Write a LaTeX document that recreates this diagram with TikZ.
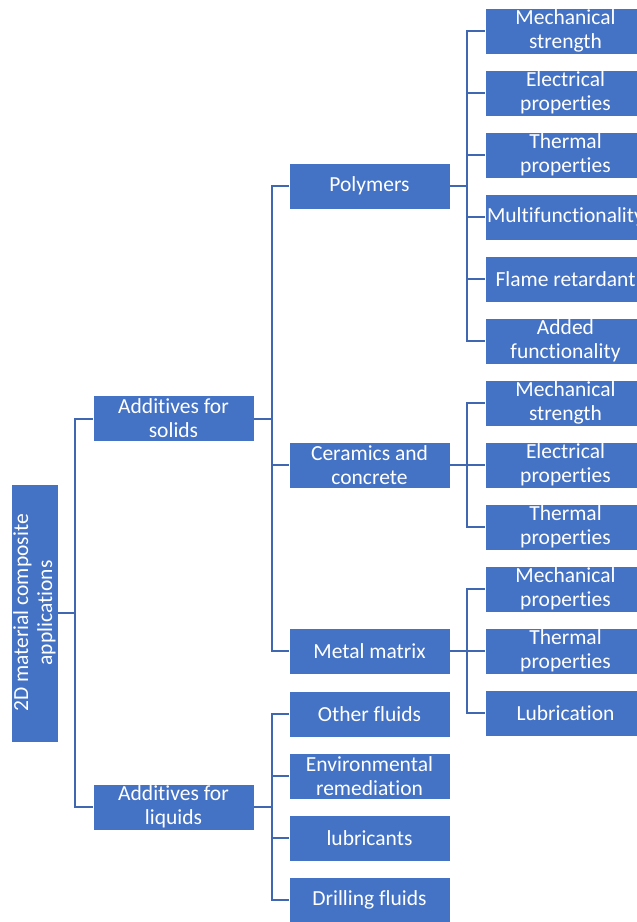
\documentclass[tikz,border=0pt]{standalone}
\usepackage{fontspec}
\setmainfont{Carlito}[Ligatures=NoCommon]
\usetikzlibrary{positioning}
\tikzstyle{tree_box}=[rectangle,
        minimum height=46pt,
        minimum width=161pt,
        inner sep=0pt,
        fill=BoxBlue,
        draw=white,
        line width=0.6pt,
        text=white,
        align=center,
        font=\fontsize{21.5}{24}\selectfont, ]
\tikzstyle{tree_link}=[draw=LinkBlue, line width=2pt]
\definecolor{BoxBlue}{HTML}{4472C4}
\definecolor{LinkBlue}{HTML}{4068B2}

\begin{document}
\begin{tikzpicture}[x=1pt, y=-1pt]
    \clip (0,0) rectangle (637,922);

    % root, turned on its side
    \node at (34.5, 613) (root) [tree_box, rotate=90, minimum width=258pt, minimum height=47pt] {2D material composite\\applications};

    \node at (173.5, 418.5) (solids) [tree_box] {Additives for\\solids};
    \node at (173.5, 807) (liquids) [tree_box] {Additives for\\liquids};

    \node at (369.5, 186) (polymers) [tree_box] {Polymers};
    \node at (369.5, 465) (ceramics) [tree_box] {Ceramics and\\concrete};
    \node at (369.5, 651) (metal) [tree_box] {Metal matrix};

    \node at (369.5, 714) (fluids) [tree_box] {Other fluids};
    \node at (369.5, 776) (remed) [tree_box] {Environmental\\remediation};
    \node at (369.5, 838) (lubes) [tree_box] {lubricants};
    \node at (369.5, 900) (drilling) [tree_box] {Drilling fluids};

    % leaves, one column at 62pt steps
    \foreach \txt [count=\i] in {{Mechanical\\strength}, {Electrical\\properties}, {Thermal\\properties}, Multifunctionality, Flame retardant, {Added\\functionality}} {
        \node at (565.5, 31 + 62 * \i - 62) (P\i) [tree_box] {\txt};
    }
    \foreach \txt [count=\i] in {{Mechanical\\strength}, {Electrical\\properties}, {Thermal\\properties}} {
        \node at (565.5, 403 + 62 * \i - 62) (C\i) [tree_box] {\txt};
    }
    \foreach \txt [count=\i] in {{Mechanical\\properties}, {Thermal\\properties}, Lubrication} {
        \node at (565.5, 589 + 62 * \i - 62) (M\i) [tree_box] {\txt};
    }

    % connectors
    \draw[tree_link] (root.south) -- ++(17,0) coordinate (j_root);
    \foreach \n in {solids, liquids} \draw[tree_link] (\n.west) -| (j_root);

    \draw[tree_link] (solids.east) -- ++(18,0) coordinate (j_solids);
    \foreach \n in {polymers, ceramics, metal} \draw[tree_link] (\n.west) -| (j_solids);

    \draw[tree_link] (liquids.east) -- ++(18,0) coordinate (j_liquids);
    \foreach \n in {fluids, remed, lubes, drilling} \draw[tree_link] (\n.west) -| (j_liquids);

    \draw[tree_link] (polymers.east) -- ++(17,0) coordinate (j_poly);
    \foreach \i in {1,...,6} \draw[tree_link] (P\i.west) -| (j_poly);

    \draw[tree_link] (ceramics.east) -- ++(17,0) coordinate (j_cer);
    \foreach \i in {1,...,3} \draw[tree_link] (C\i.west) -| (j_cer);

    \draw[tree_link] (metal.east) -- ++(17,0) coordinate (j_met);
    \foreach \i in {1,...,3} \draw[tree_link] (M\i.west) -| (j_met);

\end{tikzpicture}
\end{document}
